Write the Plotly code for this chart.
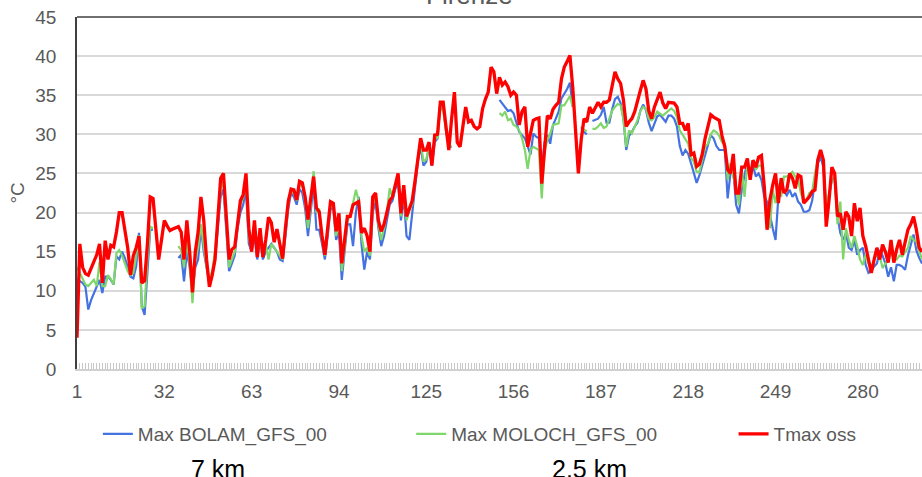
import plotly.graph_objects as go

days = list(range(1, 302))
x_tick_labels = [1, 32, 63, 94, 125, 156, 187, 218, 249, 280]
y_tick_labels = [0, 5, 10, 15, 20, 25, 30, 35, 40, 45]

tmax_oss = [
    4, 16, 13, 12.2, 12, 12.8, 13.8, 14.6, 16, 11,
    16.4, 14, 15.8, 15.6, 17.5, 20, 20, 17.5, 15.5, 12,
    14.5, 15.5, 17, 11, 11.3, 16, 22, 21.8, 18, 14,
    16.5, 19, 18.3, 17.7, 17.9, 18, 18.2, 17.5, 14, 19,
    15, 9.8, 15, 17.5, 22, 19, 14, 10.5, 12, 14,
    19, 24.4, 25, 20, 14, 15.3, 15.6, 18.5, 21.5, 22.3,
    25, 18, 15, 19, 14.3, 18, 14.3, 16.5, 19.4, 18.7,
    16.2, 17.9, 16, 14.1, 18, 21.4, 23, 22.9, 21.6, 24,
    23.8, 22, 19.1, 21.5, 24.6, 20.6, 20.1, 17, 14.6, 18,
    21.4, 21.2, 17.6, 19.9, 13.5, 16.5, 19.5, 19.5, 21, 21.2,
    21.4, 17.4, 18, 17, 15, 22, 22.5, 19, 17.6, 18.5,
    20, 21.5, 22, 23.5, 25, 19.9, 23.5, 19.5, 20.5, 21.5,
    24, 27, 29.5, 28, 28, 29, 26, 29.9, 30, 34.1,
    34.1, 31, 28, 32, 35.4, 29, 28.4, 31, 33.5, 31.6,
    31.8, 31, 30.7, 31, 33.3, 34.5, 35.4, 38.6, 38, 35.2,
    37.3, 36.3, 36.7, 36.1, 35, 35.4, 35, 31.2, 32.9, 33.5,
    28.4, 30.1, 31.8, 32, 32.1, 23.7, 28.4, 32.4, 32, 33.2,
    33.7, 34.1, 37.1, 38.6, 39.3, 40.1, 36, 31, 25, 29.3,
    32, 31.6, 33.5, 32.7, 33.3, 34.1, 33.5, 34.1, 34.1, 34.4,
    36.2, 38, 37.1, 36.5, 34.4, 31, 31.6, 32, 32.9, 34.1,
    35.6, 36.9, 35.8, 33, 32, 33.5, 34.6, 35.4, 34, 33.3,
    34.1, 34.1, 34, 33.5, 31.4, 31.4, 30.5, 31.4, 27.4, 27.6,
    25.9, 26.2, 27.5, 29.5, 31, 32.5, 32.2, 32, 31.8, 29.8,
    28.4, 25.5, 25, 27.5, 22.5, 22.5, 25.8, 25.8, 26.9, 24.2,
    26.7, 25.8, 27.1, 27.3, 23.3, 17.8, 21.6, 23.5, 25, 21.2,
    24.4, 22.5, 22.9, 25, 24.4, 23.1, 24.8, 24.6, 21.2, 21.6,
    22, 22.7, 22.9, 26.7, 28, 26.7, 18.2, 21.6, 25.8, 25,
    19.5, 19.9, 17.8, 20.1, 19.5, 17, 21.2, 18.9, 20.6, 17,
    15.7, 14, 12.3, 14, 15.5, 14, 15.9, 15, 13.6, 16.5,
    13.6, 15.3, 16.5, 14.6, 16.1, 17.8, 18.5, 19.5, 17.8, 15.5,
    15,
]

N = None
max_bolam = [
    11.5, 11.3, 11, 10.5, 7.6, 8.8, 9.7, 10.6, 11.4, 9.7,
    11.8, 11.8, 11.4, 10.8, 14.4, 14, 15, 14.2, 13, 11.8,
    11.6, 13.1, 17.4, 8, 6.9, 12.3, 17.8, 17.8, N, N,
    N, N, N, N, N, N, 14.2, 14.6, 11.2, 15,
    13, 10, 13, 14, 18, 15, 13, 11, 12, 14,
    18, 22, 23, 17, 12.5, 13.5, 14.5, 18, 20, 21,
    23, 16, 15, 17, 14, 16.5, 14, 15, 15.5, 16,
    15.5, 15, 14, 13.8, 17, 20.5, 22.5, 22, 21, 23,
    22.5, 20.5, 17, 20, 23.5, 17.8, 17.8, 16, 14, 17,
    20.5, 20.5, 16.5, 17.5, 11.4, 15, 18.5, 18.5, 15.7, 20,
    22, 16, 12.7, 15, 14, 20, 21.5, 18, 15.7, 17,
    19, 21, 21.5, 23, 24, 19, 22, 17, 16.5, 20,
    23.5, 26.5, 28.5, 26, 26.5, 28.5, 26, 29, 29.5, 34.2,
    33.5, 30.5, 28.4, 28.4, N, N, N, N, N, N,
    N, N, N, N, N, N, N, N, N, N,
    34.4, 33.9, 33.5, 33, 33.1, 32.7, 31.5, 30.3, 29.9, 29.5,
    28.5, 27.4, 30.1, 29.7, 29.5, 25.5, 29, 29.9, 28.8, 31.2,
    32, 32.9, 34.6, 35.2, 35.8, 36.6, 33.5, N, N, 30.9,
    30.3, 30, N, 31.7, 31.8, 32, 32.5, 33.5, 31.5, 31.5,
    33.2, 34.5, 34.8, 34, 32, 28, 29.8, 30.3, 31, 31.5,
    33, 33.8, 33.1, 31.5, 30.4, 31.5, 32.3, 32.5, 32, 31.6,
    32.4, 32.4, 32, 31, 28.5, 27.3, 28, 27.5, 26.3, 25,
    23.8, 24.8, 26, 27.5, 28.5, 29.9, 29.5, 28.5, 28, 28,
    28, 21.8, 25, 25.6, 21, 19.9, 22.9, 24.8, 26.5, 24.6,
    26, 24.6, 25, 24.2, 22, 21.4, 19.5, 18, 16.5, 22,
    22.7, 22.7, 22.2, 22.9, 22, 22.5, 21.4, 21, 20.1, 20.1,
    20.3, 21.5, 24, 26.3, 27.1, 25.8, 19.9, 22, 24.2, 24.4,
    19.5, 17.4, 16.5, 17.4, 15.5, 15.2, 16.5, 14.6, 15.2, 15.5,
    13.3, 12.3, 12.5, 13.1, 13.5, 15.2, 14.5, 13.5, 11.8, 13,
    11.2, 13.3, 13.3, 13.1, 12.7, 14.5, 15.9, 17.2, 15.2, 14.2,
    13.5,
]

max_moloch = [
    13, 12.2, 11.5, 10.8, 10.6, 11, 11.4, 10.6, 13.7, 10.6,
    10.6, 12, 11.5, 10.8, 14.8, 15.2, 14.5, 13.5, 12.5, 12,
    12.3, 14.4, 17.1, 7.8, 8, 14, 18.2, 18, N, N,
    N, N, N, N, N, N, 15.7, 15.2, 13, 16.5,
    13.5, 8.4, 14, 15.5, 18.5, 16, 13, 11.5, 12.5, 15,
    19, 23, 24, 18, 13, 14, 15, 18.5, 21, 22,
    24, 17, 15, 18.5, 14.5, 17, 14.5, 16, 14, 16,
    15.5, 15, 14.5, 14, 17.5, 21, 22.8, 22.5, 21.5, 23.5,
    23.5, 21.5, 18, 21, 25.3, 20, 20.5, 16.5, 14.5, 17.5,
    21, 20.8, 17, 19, 12.5, 15.5, 19, 19.5, 21, 22.9,
    21.5, 17, 15, 15.5, 14.5, 21, 22, 18.5, 16.5, 18,
    20, 23.1, 22, 23.5, 24.5, 19.5, 22.5, 19, 20.3, 21,
    24, 27, 29, 26.5, 26.8, 28.5, 26.5, 29.5, 29.5, 33.5,
    33, 30.5, 28.5, 28.5, N, N, N, N, N, N,
    N, N, N, N, N, N, N, N, N, N,
    32.7, 32.4, 32.9, 31.8, 32, 31.2, 31, 30.5, 29.5, 28,
    25.6, 28, 28.4, 28.2, 28, 21.8, 27.8, 29.3, 30.1, 31.2,
    31.3, 31.4, 33.7, 33.7, 34.3, 34.9, 33.5, N, N, 31,
    30.6, 30.4, N, 30.7, 30.7, 31, 31.4, 30.8, 31, 32,
    33, 33.5, 33.9, 33.7, 32, 28.4, 30.5, 30.1, 31, 31.8,
    33, 33.5, 33.3, 32, 31.8, 32.2, 32.9, 32.6, 32.4, 32.7,
    33, 33.3, 33, 32.2, 30.5, 29.9, 29.3, 28.8, 27, 26.5,
    25.2, 25.2, 26.8, 28.4, 28.8, 30, 30.5, 30.3, 29.8, 29,
    28.8, 24.2, 26.3, 24.5, 23.3, 21, 25.5, 22, 26.3, 24.5,
    26.7, 25.5, 26, 26, 23.1, 19.1, 18, 22.9, 21.2, 23.7,
    22, 24.6, 24.6, 24.8, 25.2, 24.6, 24.2, 22.5, 21.4, 21.6,
    22.5, 22.7, 25, 26.8, 27.8, 26.5, 20.8, 22.5, 24.2, 24.4,
    18.5, 21.4, 14, 18, 16.5, 15.5, 17, 15.7, 14, 13.3,
    14.6, 13.5, 12.7, 14, 14.6, 14.4, 12.9, 13.5, 13.8, 14.8,
    14.3, 14, 14.5, 14.4, 15, 15.5, 17, 16.5, 16.3, 15,
    14,
]

FONT = "Liberation Sans, Arial, sans-serif"
GREY = "#595959"

fig = go.Figure()
fig.add_trace(go.Scatter(x=days, y=max_bolam, mode="lines", name="Max BOLAM_GFS_00",
                         line=dict(color="#4472E0", width=2.2), connectgaps=False,
                         legend="legend"))
fig.add_trace(go.Scatter(x=days, y=max_moloch, mode="lines", name="Max MOLOCH_GFS_00",
                         line=dict(color="#7FD66B", width=2.2), connectgaps=False,
                         legend="legend2"))
fig.add_trace(go.Scatter(x=days, y=tmax_oss, mode="lines", name="Tmax oss",
                         line=dict(color="#FF0000", width=3.3), legend="legend3"))

leg_common = dict(orientation="h", xanchor="left", y=-0.185, yanchor="middle",
                  font=dict(family=FONT, size=19, color=GREY),
                  bgcolor="rgba(0,0,0,0)", borderwidth=0)

fig.update_layout(
    width=922, height=477,
    margin=dict(l=77, r=0, t=17, b=108, autoexpand=False),
    paper_bgcolor="white", plot_bgcolor="white",
    font=dict(family=FONT, size=19, color=GREY),
    showlegend=True,
    legend=dict(x=0.0247, **leg_common),
    legend2=dict(x=0.3955, **leg_common),
    legend3=dict(x=0.777, **leg_common),
    xaxis=dict(range=[1, 301], tickmode="array", tickvals=x_tick_labels,
               ticktext=[str(v) for v in x_tick_labels],
               showgrid=False, zeroline=False, automargin=False,
               showline=True, linecolor="#d0d0d0", linewidth=1.5,
               ticks="inside", ticklen=6, tickcolor="#c8c8c8", tickwidth=1,
               minor=dict(tickmode="linear", tick0=1, dtick=1, ticks="inside",
                          ticklen=6, tickcolor="#c8c8c8", tickwidth=1),
               ticklabelstandoff=4,
               tickfont=dict(family=FONT, size=19, color=GREY)),
    yaxis=dict(range=[0, 45], tickmode="array", tickvals=y_tick_labels,
               showgrid=True, gridcolor="#d9d9d9", gridwidth=1.5,
               zeroline=False, showline=True, linecolor="#404040", linewidth=1.5,
               ticks="", ticklabelstandoff=15, automargin=False,
               tickfont=dict(family=FONT, size=19, color=GREY)),
    shapes=[dict(type="line", xref="paper", yref="paper", x0=0, x1=1, y0=1, y1=1,
                 line=dict(color="#404040", width=1.5))],
    annotations=[
        dict(text="Firenze", xref="paper", yref="paper", x=0.464, y=1.0128,
             xanchor="center", yanchor="bottom", showarrow=False,
             font=dict(family=FONT, size=26, color=GREY)),
        dict(text="°C", xref="paper", yref="paper", x=-0.0715, y=0.5,
             xanchor="center", yanchor="middle", showarrow=False, textangle=-90,
             font=dict(family=FONT, size=19, color=GREY)),
        dict(text="7 km", xref="paper", yref="paper", x=0.1669, y=-0.284,
             xanchor="center", yanchor="middle", showarrow=False,
             font=dict(family=FONT, size=25, color="black")),
        dict(text="2.5 km", xref="paper", yref="paper", x=0.607, y=-0.284,
             xanchor="center", yanchor="middle", showarrow=False,
             font=dict(family=FONT, size=25, color="black")),
    ],
)

fig.write_html("out.html", config={"displayModeBar": False},
               post_script="document.body.style.margin='0px';")
